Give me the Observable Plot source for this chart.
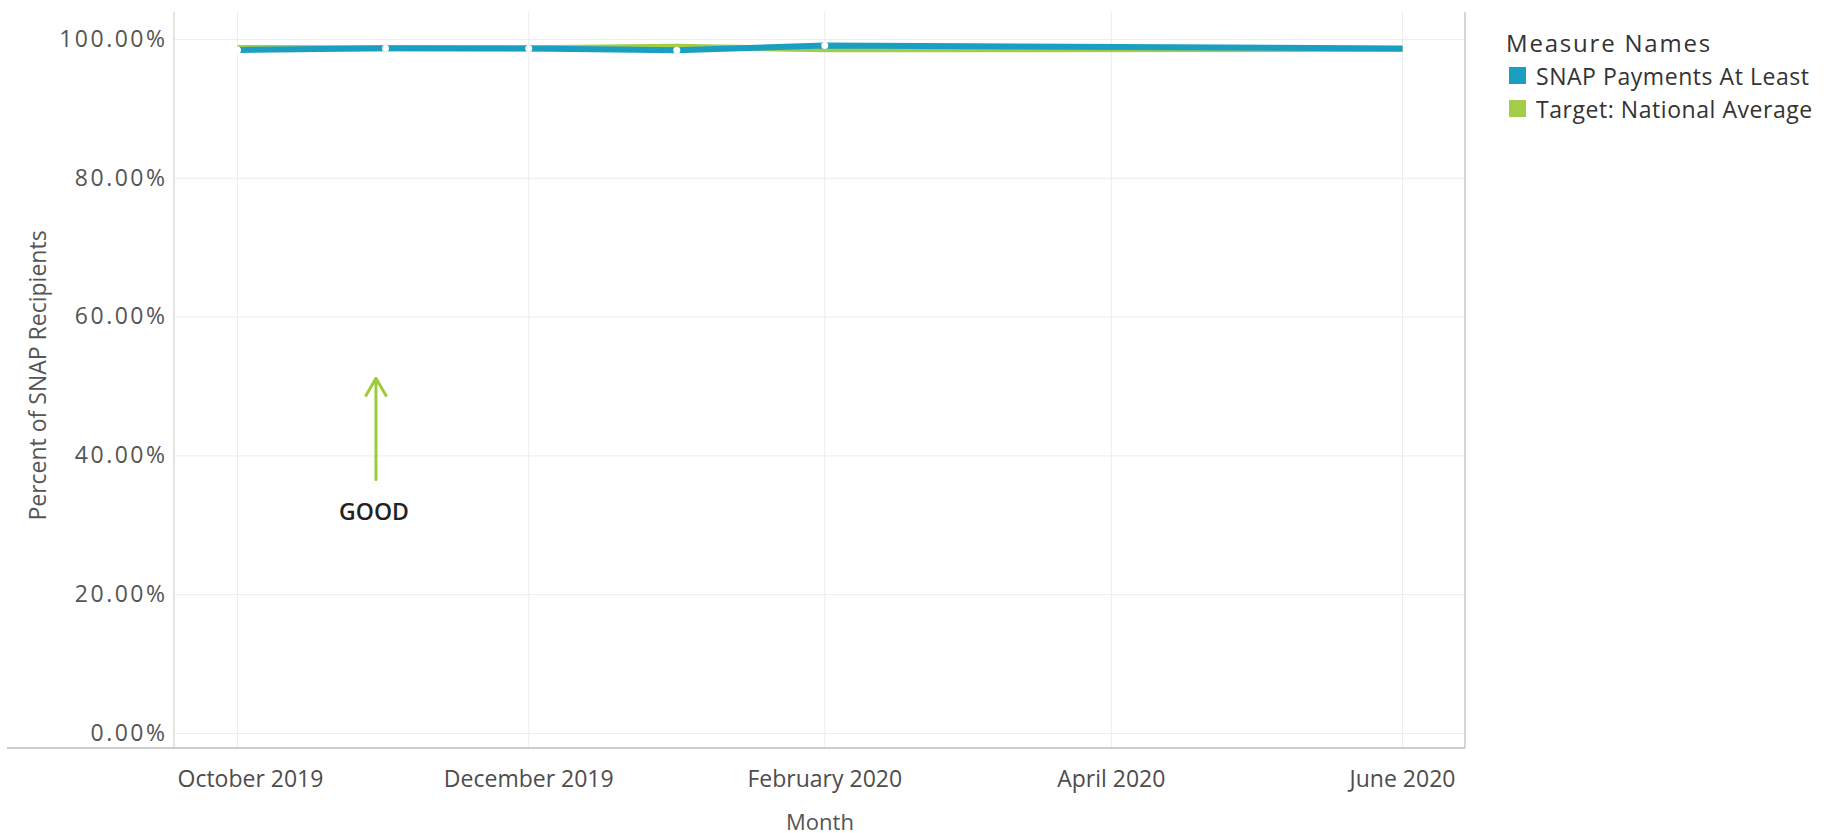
<!DOCTYPE html>
<html>
<head>
<meta charset="utf-8">
<script src="https://cdn.jsdelivr.net/npm/d3@7"></script>
<script src="https://cdn.jsdelivr.net/npm/@observablehq/plot@0.6"></script>
<style>
  body { margin: 0; background: #fff; font-family: "Open Sans", sans-serif; }
  #wrap { position: relative; width: 1824px; height: 833px; }
  #wrap svg g[aria-label="y-axis tick label"] text { letter-spacing: 2.5px; }
  #legend { position: absolute; left: 1506px; top: 27px; color: #333; font-family: "Open Sans", sans-serif; }
  #legend .title { height: 32px; line-height: 32px; font-size: 24px; letter-spacing: 1.8px; }
  #legend .item { display: flex; align-items: center; height: 33px; white-space: nowrap; font-size: 23px; letter-spacing: 0.55px; }
  #legend .sw { width: 17px; height: 17px; margin: 0 10px 0 3px; flex-shrink: 0; }
</style>
</head>
<body>
<div id="wrap"><div id="legend"></div></div>
<script>
// ---- data ----
const months = ["2019-10-01", "2019-11-01", "2019-12-01", "2020-01-01", "2020-02-01", "2020-06-01"];
const snapPayments = [98.49, 98.73, 98.70, 98.45, 99.14, 98.72];
const targetAverage = [98.77, 98.75, 98.75, 98.96, 98.60, 98.62];
const seriesNames = ["SNAP Payments At Least", "Target: National Average"];
const seriesColors = ["#1a9fc2", "#a3cd48"];
const legendTitle = "Measure Names";
const xTickMonths = ["2019-10-01", "2019-12-01", "2020-02-01", "2020-04-01", "2020-06-01"];
const yTicks = [0, 20, 40, 60, 80, 100];
const markerMonths = ["2019-10-01", "2019-11-01", "2019-12-01", "2020-01-01", "2020-02-01"];
const annotationDate = ["2019-10-30"];
const annotationArrow = [36.6, 51.2];
const annotationLabel = ["GOOD"];
const annotationLabelValue = [31.8];
const xTitle = "Month";
const yTitle = "Percent of SNAP Recipients";

// ---- build ----
const parse = d3.utcParse("%Y-%m-%d");
const rows = [];
months.forEach((m, i) => {
  rows.push({date: parse(m), value: targetAverage[i], series: seriesNames[1]});
});
months.forEach((m, i) => {
  rows.push({date: parse(m), value: snapPayments[i], series: seriesNames[0]});
});
const markers = markerMonths.map(m => ({date: parse(m), value: snapPayments[months.indexOf(m)]}));
const arrowData = annotationDate.map(d => ({date: parse(d), y1: annotationArrow[0], y2: annotationArrow[1]}));
const labelData = annotationDate.map((d, i) => ({date: parse(d), value: annotationLabelValue[i], text: annotationLabel[i]}));
const xTicks = xTickMonths.map(parse);

const W = 1824, H = 833;
const axisLineStart = 7;

const frameLines = (index, scales, values, dims) => {
  const {marginLeft: l, marginRight: r, marginTop: t, marginBottom: b, width: w, height: h} = dims;
  const g = d3.create("svg:g");
  g.append("line").attr("x1", l).attr("x2", l).attr("y1", t).attr("y2", h - b).attr("stroke", "#dcdcdc").attr("stroke-width", 1.5);
  g.append("line").attr("x1", w - r).attr("x2", w - r).attr("y1", t).attr("y2", h - b).attr("stroke", "#c8c8c8").attr("stroke-width", 1.5);
  g.append("line").attr("x1", axisLineStart).attr("x2", w - r).attr("y1", h - b).attr("y2", h - b).attr("stroke", "#bdbdbd").attr("stroke-width", 1.5);
  return g.node();
};

const xAxisStyle = {tickFormat: d3.utcFormat("%B %Y"), tickSize: 0, tickPadding: 22, label: null, fontSize: 23, fill: "#4d4d4d"};

const chart = Plot.plot({
  width: W,
  height: H,
  marginLeft: 174,
  marginRight: W - 1465,
  marginTop: 12,
  marginBottom: H - 748,
  style: {fontFamily: "Open Sans, sans-serif", background: "#fff", overflow: "visible"},
  x: {type: "utc", domain: [xTicks[0], xTicks[xTicks.length - 1]], insetLeft: 63, insetRight: 63},
  y: {domain: [0, 100], insetTop: 27, insetBottom: 15},
  color: {domain: seriesNames, range: seriesColors},
  marks: [
    Plot.gridX(xTicks, {stroke: "#ececec", strokeOpacity: 1}),
    Plot.gridY(yTicks, {stroke: "#ececec", strokeOpacity: 1}),
    frameLines,
    // first label is kept inside the pane (as the original does)
    Plot.axisX({...xAxisStyle, ticks: xTicks.slice(0, 1), textAnchor: "start", dx: -60}),
    Plot.axisX({...xAxisStyle, ticks: xTicks.slice(1)}),
    Plot.axisY({ticks: yTicks, tickFormat: d => d.toFixed(2) + "%", tickSize: 0, tickPadding: 7, label: null, fontSize: 23, fill: "#555"}),
    Plot.text([xTitle], {frameAnchor: "bottom", lineAnchor: "middle", dy: 74, fontSize: 22, fill: "#555"}),
    Plot.text([yTitle], {frameAnchor: "left", textAnchor: "middle", rotate: -90, dx: -136, dy: -5, fontSize: 23, fill: "#555"}),
    Plot.line(rows, {x: "date", y: "value", z: "series", stroke: "series", strokeWidth: 6, strokeLinejoin: "round", strokeLinecap: "butt"}),
    Plot.dot(markers, {x: "date", y: "value", r: 3.5, fill: "white", stroke: null}),
    Plot.arrow(arrowData, {x1: "date", x2: "date", y1: "y1", y2: "y2", stroke: "#9ccc3c", strokeWidth: 3, headLength: 10, headAngle: 60}),
    Plot.text(labelData, {x: "date", y: "value", text: "text", fontSize: 23, fontWeight: 600, fill: "#222", dx: -2})
  ]
});
document.getElementById("wrap").prepend(chart);

// legend
const legend = d3.select("#legend");
legend.append("div").attr("class", "title").text(legendTitle);
seriesNames.forEach((name, i) => {
  const item = legend.append("div").attr("class", "item");
  item.append("div").attr("class", "sw").style("background", seriesColors[i]);
  item.append("span").text(name);
});
</script>
</body>
</html>
